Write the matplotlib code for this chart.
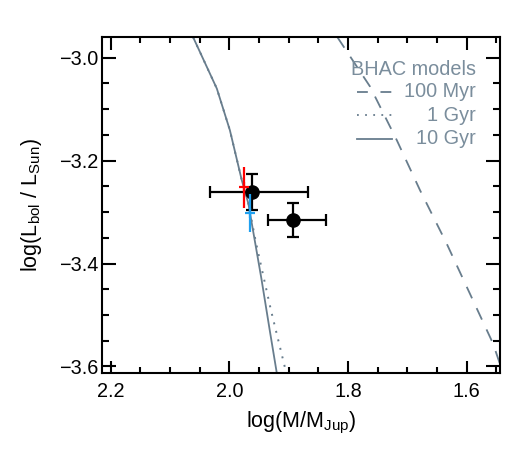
import matplotlib
matplotlib.use("Agg")
import matplotlib.pyplot as plt
from matplotlib.ticker import MultipleLocator, FuncFormatter

plt.rcParams['font.family'] = ['Liberation Sans', 'DejaVu Sans']
plt.rcParams['mathtext.default'] = 'regular'

# BHAC isochrones (log M/MJup, log L/Lsun)
iso_10gyr_m = [2.061, 2.021, 1.999, 1.979, 1.968, 1.946, 1.932, 1.920]
iso_10gyr_l = [-2.960, -3.060, -3.141, -3.238, -3.283, -3.429, -3.529, -3.613]
iso_1gyr_m = [2.061, 2.021, 1.999, 1.979, 1.968, 1.955, 1.930, 1.904]
iso_1gyr_l = [-2.960, -3.060, -3.141, -3.238, -3.283, -3.360, -3.490, -3.613]
iso_100myr_m = [1.818, 1.763, 1.718, 1.679, 1.634, 1.595, 1.556, 1.5445]
iso_100myr_l = [-2.960, -3.056, -3.160, -3.257, -3.361, -3.458, -3.555, -3.594]

# measured objects
obj_m = [1.962, 1.892]
obj_l = [-3.261, -3.316]
obj_m_lo = [0.094, 0.055]
obj_m_hi = [0.071, 0.043]
obj_l_err = [0.035, 0.033]

red_m, red_l, red_lerr = 1.975, -3.252, 0.040
blue_m, blue_l, blue_lerr = 1.965, -3.301, 0.037

model_col = '#687d8d'
text_col = '#7a8d9c'

fig = plt.figure(figsize=(5.25, 4.5), dpi=100)
ax = fig.add_axes([0.195, 0.172, 0.757, 0.745])

ax.plot(iso_100myr_m, iso_100myr_l, color=model_col, lw=1.3, ls=(0, (7, 6)))
ax.plot(iso_1gyr_m, iso_1gyr_l, color=model_col, lw=1.4, ls=(0, (1, 3.5)))
ax.plot(iso_10gyr_m, iso_10gyr_l, color=model_col, lw=1.3)

ax.errorbar(obj_m, obj_l, xerr=[obj_m_lo, obj_m_hi], yerr=obj_l_err,
            fmt='o', color='black', ms=9.5, elinewidth=1.6, capsize=4,
            capthick=1.6, zorder=4)
ax.errorbar([red_m], [red_l], yerr=red_lerr, fmt='+', color='red', ms=7,
            mew=1.6, elinewidth=1.6, capsize=0, zorder=5)
ax.errorbar([blue_m], [blue_l], yerr=blue_lerr, fmt='+', color='#1ea0f0',
            ms=7.5, mew=1.6, elinewidth=1.6, capsize=0, zorder=5)

# legend drawn by hand (labels right-aligned)
ax.text(0.94, 0.905, 'BHAC models', transform=ax.transAxes, ha='right',
        va='center', fontsize=14.3, color=text_col)
leg_labels = ['100 Myr', '1 Gyr', '10 Gyr']
leg_styles = [(0, (6, 7)), (0, (1, 3.5)), '-']
for i, (lab, st) in enumerate(zip(leg_labels, leg_styles)):
    yy = 0.838 - i * 0.07
    ax.plot([0.64, 0.73], [yy, yy], transform=ax.transAxes, color=model_col,
            lw=1.3, ls=st)
    ax.text(0.94, yy, lab, transform=ax.transAxes, ha='right', va='center',
            fontsize=14.3, color=text_col)

ax.set_xlim(2.2138, 1.5444)
ax.set_ylim(-3.612, -2.9604)
ax.xaxis.set_major_locator(MultipleLocator(0.2))
ax.xaxis.set_minor_locator(MultipleLocator(0.05))
ax.yaxis.set_major_locator(MultipleLocator(0.2))
ax.yaxis.set_minor_locator(MultipleLocator(0.05))
fmt = FuncFormatter(lambda v, p: ('%.1f' % v).replace('-', '\u2212'))
ax.xaxis.set_major_formatter(fmt)
ax.yaxis.set_major_formatter(fmt)

ax.tick_params(which='both', direction='in', top=True, right=True,
               width=1.5, labelsize=14.3)
ax.tick_params(axis='x', which='major', length=9, pad=7)
ax.tick_params(axis='x', which='minor', length=4)
ax.tick_params(axis='y', which='major', length=10, pad=3)
ax.tick_params(axis='y', which='minor', length=5)
for s in ax.spines.values():
    s.set_linewidth(1.5)

ax.set_xlabel('log(M/M$_{Jup}$)', fontsize=15.5, labelpad=6)
ax.set_ylabel('log(L$_{bol}$ / L$_{Sun}$)', fontsize=15.5, labelpad=11)

fig.savefig('out.png', dpi=100)
